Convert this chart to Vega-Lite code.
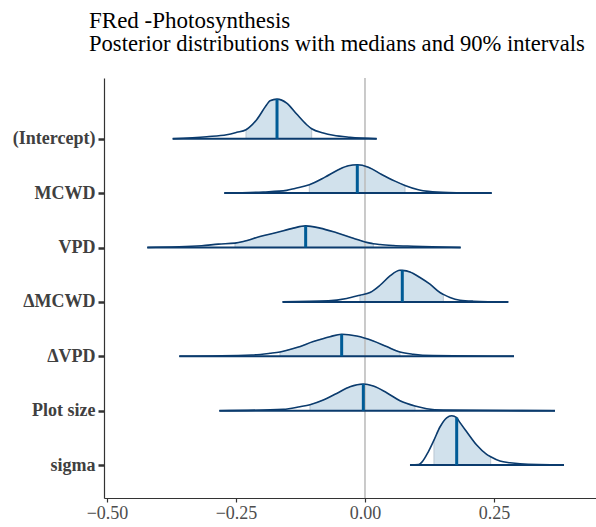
{
  "$schema": "https://vega.github.io/schema/vega-lite/v6.json",
  "width": 492,
  "height": 420,
  "autosize": {"type": "none"},
  "padding": {"left": 104, "top": 78, "right": 0, "bottom": 29},
  "background": "white",
  "title": {
    "text": "FRed -Photosynthesis",
    "subtitle": "Posterior distributions with medians and 90% intervals",
    "anchor": "start",
    "frame": "group",
    "dx": -15,
    "offset": 22,
    "font": "Liberation Serif",
    "fontSize": 23,
    "fontWeight": "normal",
    "color": "#000000",
    "subtitleFont": "Liberation Serif",
    "subtitleFontSize": 22.6,
    "subtitleColor": "#000000",
    "subtitlePadding": 0
  },
  "config": {
    "view": {"stroke": null},
    "axis": {"grid": false}
  },
  "datasets": {
    "summ": [
      {"p": "(Intercept)", "row": 7, "lo": -0.2306, "med": -0.1705, "hi": -0.1033, "hmed": 0.728},
      {"p": "MCWD", "row": 6, "lo": -0.1079, "med": -0.0149, "hi": 0.0775, "hmed": 0.521},
      {"p": "VPD", "row": 5, "lo": -0.2519, "med": -0.1150, "hi": 0.0161, "hmed": 0.398},
      {"p": "ΔMCWD", "row": 4, "lo": -0.0097, "med": 0.0723, "hi": 0.1518, "hmed": 0.58},
      {"p": "ΔVPD", "row": 3, "lo": -0.1647, "med": -0.0452, "hi": 0.0678, "hmed": 0.404},
      {"p": "Plot size", "row": 2, "lo": -0.1066, "med": -0.0032, "hi": 0.0969, "hmed": 0.49},
      {"p": "sigma", "row": 1, "lo": 0.1337, "med": 0.1777, "hi": 0.2436, "hmed": 0.873}
    ],
    "dens": [
      {"p": "(Intercept)", "x": -0.3727, "d": 0},
      {"p": "(Intercept)", "x": -0.3068, "d": 0.037},
      {"p": "(Intercept)", "x": -0.2680, "d": 0.073},
      {"p": "(Intercept)", "x": -0.2486, "d": 0.117},
      {"p": "(Intercept)", "x": -0.2306, "d": 0.165},
      {"p": "(Intercept)", "x": -0.2099, "d": 0.349},
      {"p": "(Intercept)", "x": -0.1905, "d": 0.624},
      {"p": "(Intercept)", "x": -0.1841, "d": 0.697},
      {"p": "(Intercept)", "x": -0.1705, "d": 0.728},
      {"p": "(Intercept)", "x": -0.1517, "d": 0.655},
      {"p": "(Intercept)", "x": -0.1324, "d": 0.453},
      {"p": "(Intercept)", "x": -0.1130, "d": 0.257},
      {"p": "(Intercept)", "x": -0.1033, "d": 0.183},
      {"p": "(Intercept)", "x": -0.0808, "d": 0.105},
      {"p": "(Intercept)", "x": -0.0614, "d": 0.062},
      {"p": "(Intercept)", "x": -0.0291, "d": 0.026},
      {"p": "(Intercept)", "x": 0.0227, "d": 0},

      {"p": "MCWD", "x": -0.2726, "d": 0},
      {"p": "MCWD", "x": -0.1971, "d": 0.02},
      {"p": "MCWD", "x": -0.1518, "d": 0.05},
      {"p": "MCWD", "x": -0.1357, "d": 0.086},
      {"p": "MCWD", "x": -0.1079, "d": 0.154},
      {"p": "MCWD", "x": -0.0775, "d": 0.294},
      {"p": "MCWD", "x": -0.0517, "d": 0.429},
      {"p": "MCWD", "x": -0.0323, "d": 0.503},
      {"p": "MCWD", "x": -0.0149, "d": 0.521},
      {"p": "MCWD", "x": 0.0065, "d": 0.477},
      {"p": "MCWD", "x": 0.0323, "d": 0.343},
      {"p": "MCWD", "x": 0.0581, "d": 0.220},
      {"p": "MCWD", "x": 0.0775, "d": 0.141},
      {"p": "MCWD", "x": 0.1034, "d": 0.062},
      {"p": "MCWD", "x": 0.1227, "d": 0.031},
      {"p": "MCWD", "x": 0.1615, "d": 0.009},
      {"p": "MCWD", "x": 0.2455, "d": 0},

      {"p": "VPD", "x": -0.4219, "d": 0},
      {"p": "VPD", "x": -0.3165, "d": 0.031},
      {"p": "VPD", "x": -0.2842, "d": 0.062},
      {"p": "VPD", "x": -0.2519, "d": 0.081},
      {"p": "VPD", "x": -0.2358, "d": 0.110},
      {"p": "VPD", "x": -0.2035, "d": 0.202},
      {"p": "VPD", "x": -0.1712, "d": 0.275},
      {"p": "VPD", "x": -0.1389, "d": 0.356},
      {"p": "VPD", "x": -0.1150, "d": 0.398},
      {"p": "VPD", "x": -0.0872, "d": 0.356},
      {"p": "VPD", "x": -0.0549, "d": 0.270},
      {"p": "VPD", "x": -0.0226, "d": 0.172},
      {"p": "VPD", "x": 0.0097, "d": 0.081},
      {"p": "VPD", "x": 0.0161, "d": 0.070},
      {"p": "VPD", "x": 0.0291, "d": 0.055},
      {"p": "VPD", "x": 0.0549, "d": 0.037},
      {"p": "VPD", "x": 0.0937, "d": 0.024},
      {"p": "VPD", "x": 0.1854, "d": 0},

      {"p": "ΔMCWD", "x": -0.1597, "d": 0},
      {"p": "ΔMCWD", "x": -0.0711, "d": 0.018},
      {"p": "ΔMCWD", "x": -0.0355, "d": 0.062},
      {"p": "ΔMCWD", "x": -0.0097, "d": 0.123},
      {"p": "ΔMCWD", "x": 0.0097, "d": 0.172},
      {"p": "ΔMCWD", "x": 0.0291, "d": 0.306},
      {"p": "ΔMCWD", "x": 0.0484, "d": 0.477},
      {"p": "ΔMCWD", "x": 0.0678, "d": 0.582},
      {"p": "ΔMCWD", "x": 0.0723, "d": 0.58},
      {"p": "ΔMCWD", "x": 0.0872, "d": 0.551},
      {"p": "ΔMCWD", "x": 0.1066, "d": 0.448},
      {"p": "ΔMCWD", "x": 0.1260, "d": 0.325},
      {"p": "ΔMCWD", "x": 0.1453, "d": 0.172},
      {"p": "ΔMCWD", "x": 0.1518, "d": 0.138},
      {"p": "ΔMCWD", "x": 0.1647, "d": 0.081},
      {"p": "ΔMCWD", "x": 0.1841, "d": 0.031},
      {"p": "ΔMCWD", "x": 0.2099, "d": 0.013},
      {"p": "ΔMCWD", "x": 0.2777, "d": 0},

      {"p": "ΔVPD", "x": -0.3599, "d": 0},
      {"p": "ΔVPD", "x": -0.2196, "d": 0.024},
      {"p": "ΔVPD", "x": -0.1841, "d": 0.055},
      {"p": "ΔVPD", "x": -0.1647, "d": 0.079},
      {"p": "ΔVPD", "x": -0.1324, "d": 0.160},
      {"p": "ΔVPD", "x": -0.1001, "d": 0.270},
      {"p": "ΔVPD", "x": -0.0678, "d": 0.361},
      {"p": "ΔVPD", "x": -0.0452, "d": 0.404},
      {"p": "ΔVPD", "x": -0.0162, "d": 0.372},
      {"p": "ΔVPD", "x": 0.0161, "d": 0.281},
      {"p": "ΔVPD", "x": 0.0420, "d": 0.178},
      {"p": "ΔVPD", "x": 0.0678, "d": 0.079},
      {"p": "ΔVPD", "x": 0.0937, "d": 0.037},
      {"p": "ΔVPD", "x": 0.1324, "d": 0.013},
      {"p": "ΔVPD", "x": 0.2888, "d": 0},

      {"p": "Plot size", "x": -0.2823, "d": 0},
      {"p": "Plot size", "x": -0.1583, "d": 0.024},
      {"p": "Plot size", "x": -0.1260, "d": 0.073},
      {"p": "Plot size", "x": -0.1066, "d": 0.110},
      {"p": "Plot size", "x": -0.0808, "d": 0.196},
      {"p": "Plot size", "x": -0.0549, "d": 0.317},
      {"p": "Plot size", "x": -0.0291, "d": 0.440},
      {"p": "Plot size", "x": -0.0032, "d": 0.49},
      {"p": "Plot size", "x": 0.0161, "d": 0.453},
      {"p": "Plot size", "x": 0.0420, "d": 0.330},
      {"p": "Plot size", "x": 0.0678, "d": 0.183},
      {"p": "Plot size", "x": 0.0969, "d": 0.086},
      {"p": "Plot size", "x": 0.1195, "d": 0.037},
      {"p": "Plot size", "x": 0.1518, "d": 0.013},
      {"p": "Plot size", "x": 0.3682, "d": 0},

      {"p": "sigma", "x": 0.0872, "d": 0},
      {"p": "sigma", "x": 0.1040, "d": 0.01},
      {"p": "sigma", "x": 0.1098, "d": 0.05},
      {"p": "sigma", "x": 0.1227, "d": 0.245},
      {"p": "sigma", "x": 0.1337, "d": 0.46},
      {"p": "sigma", "x": 0.1453, "d": 0.70},
      {"p": "sigma", "x": 0.1583, "d": 0.87},
      {"p": "sigma", "x": 0.1680, "d": 0.906},
      {"p": "sigma", "x": 0.1777, "d": 0.873},
      {"p": "sigma", "x": 0.1809, "d": 0.827},
      {"p": "sigma", "x": 0.1971, "d": 0.612},
      {"p": "sigma", "x": 0.2165, "d": 0.368},
      {"p": "sigma", "x": 0.2358, "d": 0.197},
      {"p": "sigma", "x": 0.2436, "d": 0.153},
      {"p": "sigma", "x": 0.2616, "d": 0.074},
      {"p": "sigma", "x": 0.2810, "d": 0.042},
      {"p": "sigma", "x": 0.3004, "d": 0.024},
      {"p": "sigma", "x": 0.3857, "d": 0}
    ]
  },
  "layer": [
    {
      "data": {"name": "dens"},
      "transform": [
        {"lookup": "p", "from": {"data": {"name": "summ"}, "key": "p", "fields": ["row", "lo", "hi"]}},
        {"filter": "datum.x >= datum.lo - 1e-9 && datum.x <= datum.hi + 1e-9"},
        {"calculate": "datum.row + datum.d", "as": "top"}
      ],
      "mark": {"type": "area", "interpolate": "monotone", "fill": "#d1e1ec", "stroke": "#b9c6d2", "strokeWidth": 1},
      "encoding": {
        "x": {
          "field": "x", "type": "quantitative", "title": null,
          "scale": {"domain": [-0.5058, 0.4477], "nice": false, "zero": false},
          "axis": {
            "values": [-0.5, -0.25, 0, 0.25],
            "format": ".2f",
            "domainColor": "#333333", "domainWidth": 1.2,
            "tickColor": "#333333", "tickWidth": 1.2, "tickSize": 4,
            "labelFont": "Liberation Serif", "labelFontSize": 18, "labelColor": "#4d4d4d",
            "labelPadding": 2
          }
        },
        "y": {
          "field": "top", "type": "quantitative", "title": null,
          "scale": {"domain": [0.395, 8.116], "nice": false, "zero": false},
          "axis": {
            "values": [1, 2, 3, 4, 5, 6, 7],
            "labelExpr": "['', 'sigma', 'Plot size', 'ΔVPD', 'ΔMCWD', 'VPD', 'MCWD', '(Intercept)'][datum.value]",
            "domainColor": "#333333", "domainWidth": 1.2,
            "tickColor": "#333333", "tickWidth": 2.5, "tickSize": 6,
            "labelFont": "Liberation Serif", "labelFontSize": 18, "labelFontWeight": "bold", "labelColor": "#404040",
            "labelPadding": 3
          }
        },
        "y2": {"field": "row"},
        "detail": {"field": "p"}
      }
    },
    {
      "data": {"values": [{"x": 0}]},
      "mark": {"type": "rule", "color": "#bdbdbd", "strokeWidth": 1.6},
      "encoding": {
        "x": {"field": "x", "type": "quantitative", "title": null}
      }
    },
    {
      "data": {"name": "dens"},
      "transform": [
        {"lookup": "p", "from": {"data": {"name": "summ"}, "key": "p", "fields": ["row"]}},
        {"calculate": "datum.row + datum.d", "as": "top"}
      ],
      "mark": {"type": "line", "interpolate": "monotone", "color": "#0b3b6d", "strokeWidth": 1.6},
      "encoding": {
        "x": {"field": "x", "type": "quantitative", "title": null},
        "y": {"field": "top", "type": "quantitative", "title": null},
        "detail": {"field": "p"}
      }
    },
    {
      "data": {"name": "dens"},
      "transform": [
        {"lookup": "p", "from": {"data": {"name": "summ"}, "key": "p", "fields": ["row"]}}
      ],
      "mark": {"type": "line", "color": "#0b3b6d", "strokeWidth": 2},
      "encoding": {
        "x": {"field": "x", "type": "quantitative", "title": null},
        "y": {"field": "row", "type": "quantitative", "title": null},
        "detail": {"field": "p"}
      }
    },
    {
      "data": {"name": "summ"},
      "transform": [
        {"calculate": "datum.row + datum.hmed", "as": "top"}
      ],
      "mark": {"type": "rule", "color": "#005b96", "strokeWidth": 3},
      "encoding": {
        "x": {"field": "med", "type": "quantitative", "title": null},
        "y": {"field": "row", "type": "quantitative", "title": null},
        "y2": {"field": "top"}
      }
    }
  ]
}
